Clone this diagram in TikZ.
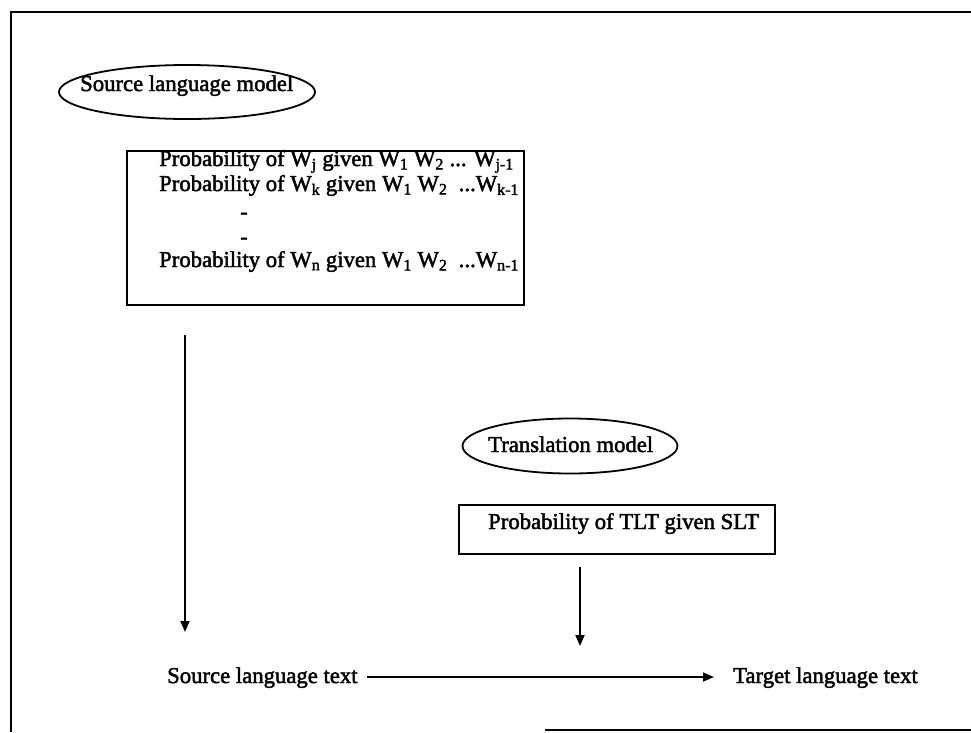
\documentclass[tikz,border=0pt]{standalone}
\usepackage{fontspec}
\setmainfont{Liberation Serif}
\newfontfamily\heavy[FakeBold=2]{Liberation Serif}
\usetikzlibrary{arrows.meta,shapes.geometric}
\newcommand{\fs}{\fontsize{22.7}{26}\selectfont\heavy}
\tikzset{
  oval/.style={ellipse, draw, line width=1.8pt, inner sep=0pt},
  probbox/.style={draw, line width=1.8pt, inner sep=0pt},
  txt/.style={anchor=base west, inner sep=0pt, font=\fs},
  flow/.style={line width=1.8pt, -{Triangle[length=11pt,width=9pt]}},
  frameline/.style={line width=2.6pt}
}
\begin{document}
\begin{tikzpicture}[x=1pt,y=-1pt]
\useasboundingbox (0,0) rectangle (971,732);
% frame
\draw[frameline] (11,732) -- (11,12) -- (971,12);
\draw[frameline] (545,730) -- (971,730);
% source language model
\node[oval, minimum width=256pt, minimum height=54pt] (slm) at (187,92) {};
\node[txt] (slmt) at (80,91) {Source language model};
\node[probbox, minimum width=397pt, minimum height=154pt, anchor=north west] (b1) at (126,150) {};
\node[txt] (l1) at (159,166) {Probability of W\textsubscript{j} given W\textsubscript{1} W\textsubscript{2} ... W\textsubscript{j-1}};
\node[txt] (l2) at (159,191) {Probability of W\textsubscript{k} given W\textsubscript{1} W\textsubscript{2} \ ...W\textsubscript{k-1}};
\node[txt, anchor=base] (d1) at (244,219) {-};
\node[txt, anchor=base] (d2) at (244,244) {-};
\node[txt] (l5) at (159,267) {Probability of W\textsubscript{n} given W\textsubscript{1} W\textsubscript{2} \ ...W\textsubscript{n-1}};
% translation model
\node[oval, minimum width=215pt, minimum height=55pt] (tm) at (570,446) {};
\node[txt] (tmt) at (488,452) {Translation model};
\node[probbox, anchor=north west, minimum width=316pt, minimum height=49pt] (b2) at (458,504) {};
\node[txt] (b2t) at (488,529) {Probability of TLT given SLT};
% bottom
\node[txt] (src) at (167,683) {Source language text};
\node[txt] (tgt) at (733,683) {Target language text};
\coordinate (a1s) at (185,335);
\coordinate (a1e) at (185,632);
\coordinate (a2s) at (580,567);
\coordinate (a2e) at (580,646);
\coordinate (a3s) at (367,677);
\coordinate (a3e) at (714,677);
\draw[flow] (a1s) -- (a1e);
\draw[flow] (a2s) -- (a2e);
\draw[flow] (a3s) -- (a3e);
\end{tikzpicture}
\end{document}
